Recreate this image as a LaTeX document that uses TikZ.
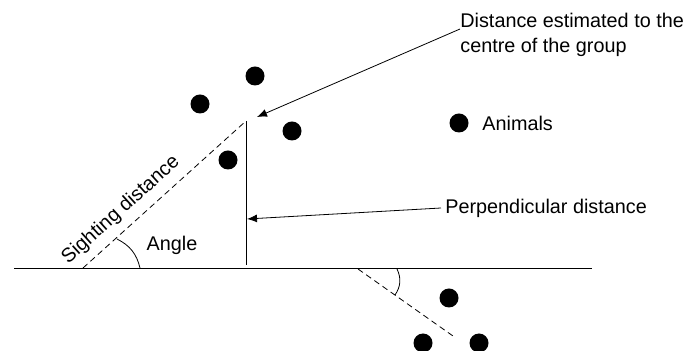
\documentclass[tikz,border=0pt]{standalone}
\usepackage{fontspec}
\setmainfont{Liberation Sans}
\usepackage{tikz}
\usetikzlibrary{arrows.meta, positioning}
\definecolor{dotblack}{HTML}{000000}

\tikzset{
  animal/.style={circle, fill=dotblack, inner sep=0pt, minimum size=9.5pt},
  label/.style={inner sep=0pt, font=\fontsize{9.9}{12.5}\selectfont},
  pointer/.style={-{Latex[length=5pt, width=4pt]}, thin},
  sighting/.style={dashed, dash pattern=on 3pt off 2pt, thin},
}

\begin{document}
\begin{tikzpicture}[x=0.5pt, y=-0.5pt]
\useasboundingbox (0,0) rectangle (685,351);

% transect line and observers
\coordinate (west) at (14,268);
\coordinate (east) at (592,268);
\draw[thin] (west) -- (east);

\coordinate (obs) at (83,268);
\coordinate (grp) at (246,121);
\coordinate (foot) at (246,265);
\draw[sighting] (obs) -- (grp);
\draw[thin] (grp) -- (foot);

\coordinate (obs2) at (358,269);
\coordinate (grp2) at (453,336);
\draw[sighting] (obs2) -- (grp2);

% angle marks
\coordinate (a1) at (117,239);
\coordinate (a2) at (140,268);
\draw[thin] (a1) to[bend left=25] (a2);
\coordinate (b1) at (397,269);
\coordinate (b2) at (395,295);
\draw[thin] (b1) to[bend left=30] (b2);

% animals
\foreach \px/\py [count=\i] in {200/104, 255/76, 292/131, 228/160,
    459/123, 449/298, 423/343, 479/343}
{
    \node[animal] (dot\i) at (\px,\py) {};
}

% labels
\node[label, anchor=west] (animals) at (482,123) {Animals};
\node[label] (angle) at (172,245) {Angle};
\node[label, rotate=42] (sight) at (121,210) {Sighting distance};
\node[label, anchor=west, align=left] (dist) at (460,35)
    {Distance estimated to the\\centre of the group};
\node[label, anchor=west] (perp) at (445,208) {Perpendicular distance};

\coordinate (hit) at (247,219);
\coordinate (tip) at (257,117);
\draw[pointer] ([yshift=3pt]dist.west) -- (tip);
\draw[pointer] ([xshift=-2pt]perp.west) -- (hit);
\end{tikzpicture}
\end{document}
